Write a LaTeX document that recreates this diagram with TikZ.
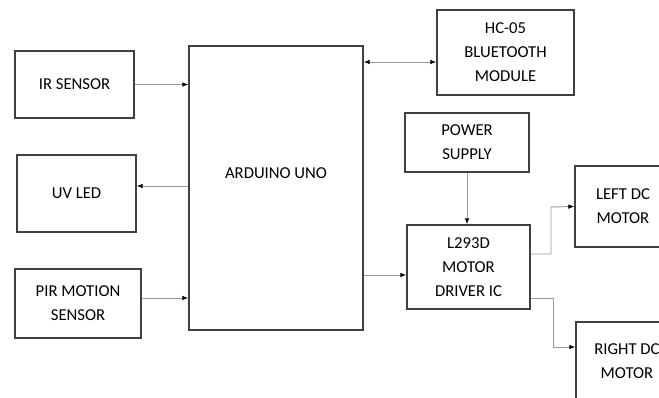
\documentclass[tikz,border=0pt]{standalone}
\usepackage{fontspec}
\setmainfont{Carlito}
\usetikzlibrary{positioning, arrows.meta, shadows}

\begin{document}
\begin{tikzpicture}[
    x=0.75pt, y=-0.75pt,
    >={Latex[length=4.5pt, width=3.5pt, color=black]},
    boxtext/.style={font=\fontsize{12.5}{18}\selectfont},
    block/.style={draw=black!75, line width=1pt, fill=white, align=center,
        inner sep=0pt, boxtext,
        drop shadow={shadow xshift=0.6pt, shadow yshift=-0.6pt, opacity=0.2}},
    conn/.style={->, draw=black!40, line width=0.7pt}
]
    \clip (0,0) rectangle (659,398);

    % controller in the middle
    \node[block, minimum width=130.5pt, minimum height=213pt,
          label={[boxtext, yshift=11pt]center:ARDUINO UNO}] (ard) at (276,188) {};

    % inputs and outputs on the left
    \node[block, minimum width=89.3pt, minimum height=50.3pt] (ir)  at (74.5,84.5) {IR SENSOR};
    \node[block, minimum width=89.3pt, minimum height=57.8pt] (uv)  at (76.5,193.5) {UV LED};
    \node[block, minimum width=94.5pt, minimum height=51.8pt] (pir) at (78,303.5) {PIR MOTION\\SENSOR};

    % right side
    \node[block, minimum width=102.8pt, minimum height=63.8pt] (bt)  at (505.5,52.5) {HC-05\\BLUETOOTH\\MODULE};
    \node[block, minimum width=93pt,    minimum height=44.3pt] (ps)  at (467,142.5) {POWER\\SUPPLY};
    \node[block, minimum width=92.3pt,  minimum height=63pt]   (drv) at (468.5,267) {L293D\\MOTOR\\DRIVER IC};
    \node[block, minimum width=72pt,    minimum height=60.8pt] (lm)  at (623,206.5) {LEFT DC\\MOTOR};
    \node[block, minimum width=76.5pt,  minimum height=58.5pt] (rm)  at (627,361) {RIGHT DC\\MOTOR};

    \draw[conn] (ir.east) -- (ir.east -| ard.west);
    \draw[conn] (ard.west |- 0,186) -- (uv.east |- 0,186);
    \draw[conn] (pir.east |- 0,298) -- (ard.west |- 0,298);
    \draw[conn, <->] (ard.east |- 0,62) -- (bt.west |- 0,62);
    \draw[conn] (ps.south) -- (ps.south |- drv.north);
    \draw[conn] (ard.east |- 0,275) -- (drv.west |- 0,275);
    \draw[conn] (drv.east |- 0,254) -| (551,207) -- (lm.west);
    \draw[conn] (drv.east |- 0,298) -| (553,347) -- (rm.west |- 0,347);
\end{tikzpicture}
\end{document}
